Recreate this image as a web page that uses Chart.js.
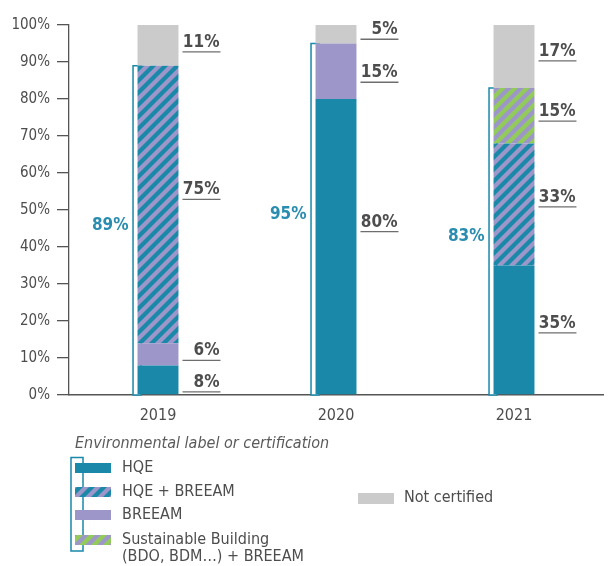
<!DOCTYPE html>
<html>
<head>
<meta charset="utf-8">
<script src="https://cdn.jsdelivr.net/npm/chart.js@4/dist/chart.umd.min.js"></script>
<style>
  html, body { margin: 0; padding: 0; background: #fff; }
  #wrap { width: 615px; height: 566px; position: relative; }
</style>
</head>
<body>
<div id="wrap"><canvas id="c" width="615" height="566"></canvas></div>
<script>
// Share of certified floor area by environmental label (%)
const years = ['2019', '2020', '2021'];
const hqe = [8, 80, 35];
const breeam = [6, 15, 0];
const hqeBreeam = [75, 0, 33];
const sustainableBreeam = [0, 0, 15];
const notCertified = [11, 5, 17];
const certifiedTotal = [89, 95, 83];
const yTickValues = [0, 10, 20, 30, 40, 50, 60, 70, 80, 90, 100];

const FONT = '"Liberation Sans Narrow", "DejaVu Sans Condensed", "Open Sans", sans-serif';
const TEAL = '#1a88a9';
const PURPLE = '#9d97c9';
const GREY = '#cbcbcb';
const GREEN = '#93cb5b';
const TEXT = '#4d4d4d';
const TOTAL_TEXT = '#2a8db0';

// Diagonal two-colour stripes, one stripe pair per tile
function stripes(bg, fg) {
  const s = 12;
  const t = document.createElement('canvas');
  t.width = s; t.height = s;
  const g = t.getContext('2d');
  g.fillStyle = bg;
  g.fillRect(0, 0, s, s);
  g.fillStyle = fg;
  const h = s / 2;
  // band of width h (measured horizontally) along the "/" diagonal, wrapped
  for (let k = -1; k <= 1; k++) {
    const o = k * s;
    g.beginPath();
    g.moveTo(o, s);
    g.lineTo(o + h, s);
    g.lineTo(o + h + s, 0);
    g.lineTo(o + s, 0);
    g.closePath();
    g.fill();
  }
  return g.createPattern(t, 'repeat');
}
const ctx0 = document.getElementById('c').getContext('2d');
const HQE_BREEAM_FILL = stripes(PURPLE, TEAL);
const SUST_FILL = stripes(PURPLE, GREEN);

// Vertical nudge (px) of each value label's underline from its segment centre
const labelNudge = {
  0: [12, -15, 3],
  1: [6, 11, 0],
  2: [-5, 0, 2.5],
  3: [0, 0, 5.5],
  4: [6.5, 5, 4.5]
};

const annotate = {
  id: 'annotate',
  beforeDatasetsDraw(chart) {
    const { ctx, scales: { y } } = chart;
    const meta = chart.getDatasetMeta(0);
    ctx.save();
    certifiedTotal.forEach((v, i) => {
      const bar = meta.data[i];
      const left = bar.x - bar.width / 2;
      const top = y.getPixelForValue(v);
      const bottom = y.getPixelForValue(0);
      ctx.fillStyle = '#fff';
      ctx.strokeStyle = TEAL;
      ctx.lineWidth = 1.5;
      ctx.beginPath();
      ctx.rect(left - 4.5, top, 8, bottom - top);
      ctx.fill();
      ctx.stroke();
    });
    ctx.restore();
  },
  afterDatasetsDraw(chart) {
    const { ctx, scales: { y } } = chart;
    ctx.save();
    // value labels with underline
    chart.data.datasets.forEach((ds, di) => {
      const meta = chart.getDatasetMeta(di);
      ds.data.forEach((v, i) => {
        if (!v) return;
        const bar = meta.data[i];
        const right = bar.x + bar.width / 2;
        const mid = (bar.y + bar.base) / 2;
        const uy = mid + labelNudge[di][i];
        ctx.strokeStyle = '#6e6e6e';
        ctx.lineWidth = 1.3;
        ctx.beginPath();
        ctx.moveTo(right + 4, uy);
        ctx.lineTo(right + 42, uy);
        ctx.stroke();
        ctx.fillStyle = TEXT;
        ctx.font = 'bold 17px ' + FONT;
        ctx.textAlign = 'right';
        ctx.textBaseline = 'alphabetic';
        ctx.fillText(v + '%', right + 41, uy - 5);
      });
    });
    // certified totals beside the brackets
    const meta0 = chart.getDatasetMeta(0);
    certifiedTotal.forEach((v, i) => {
      const bar = meta0.data[i];
      const left = bar.x - bar.width / 2;
      const top = y.getPixelForValue(v);
      const bottom = y.getPixelForValue(0);
      ctx.fillStyle = TOTAL_TEXT;
      ctx.font = 'bold 17px ' + FONT;
      ctx.textAlign = 'right';
      ctx.textBaseline = 'middle';
      ctx.fillText(v + '%', left - 9, (top + bottom) / 2 - 5);
    });
    ctx.restore();
  },
  afterDraw(chart) {
    const ctx = chart.ctx;
    const ds = chart.data.datasets;
    ctx.save();
    ctx.fillStyle = '#5a5a5a';
    ctx.font = 'italic 16px ' + FONT;
    ctx.textAlign = 'left';
    ctx.textBaseline = 'middle';
    ctx.fillText('Environmental label or certification', 75, 444);

    // bracket grouping the certified entries
    ctx.strokeStyle = TEAL;
    ctx.lineWidth = 1.5;
    ctx.strokeRect(71, 457.5, 12, 93.5);

    const rows = [
      { d: 0, y: 468 },
      { d: 2, y: 492 },
      { d: 1, y: 515 },
      { d: 3, y: 540 }
    ];
    ctx.font = '16px ' + FONT;
    rows.forEach(r => {
      ctx.fillStyle = ds[r.d].backgroundColor;
      ctx.fillRect(75, r.y - 5, 36, 10);
      ctx.fillStyle = TEXT;
      const lines = ds[r.d].legendText;
      lines.forEach((t, k) => ctx.fillText(t, 122, r.y + k * 17));
    });
    ctx.fillStyle = ds[4].backgroundColor;
    ctx.fillRect(358, 493, 36, 11);
    ctx.fillStyle = TEXT;
    ctx.fillText(ds[4].legendText[0], 404, 498);
    ctx.restore();
  }
};

new Chart(ctx0, {
  type: 'bar',
  data: {
    labels: years,
    datasets: [
      { label: 'HQE', legendText: ['HQE'], data: hqe, backgroundColor: TEAL },
      { label: 'BREEAM', legendText: ['BREEAM'], data: breeam, backgroundColor: PURPLE },
      { label: 'HQE + BREEAM', legendText: ['HQE + BREEAM'], data: hqeBreeam, backgroundColor: HQE_BREEAM_FILL },
      { label: 'Sustainable Building (BDO, BDM…) + BREEAM', legendText: ['Sustainable Building', '(BDO, BDM…) + BREEAM'], data: sustainableBreeam, backgroundColor: SUST_FILL },
      { label: 'Not certified', legendText: ['Not certified'], data: notCertified, backgroundColor: GREY }
    ]
  },
  options: {
    responsive: false,
    animation: false,
    devicePixelRatio: 1,
    layout: { padding: { top: 25, right: 12, bottom: 141, left: 0 } },
    datasets: { bar: { categoryPercentage: 1, barPercentage: 0.23, borderWidth: 0 } },
    plugins: { legend: { display: false }, tooltip: { enabled: false } },
    scales: {
      x: {
        stacked: true,
        afterFit(s) { s.height = 30; },
        grid: { display: false },
        border: { display: true, color: '#555', width: 1.5 },
        ticks: { color: TEXT, font: { family: FONT, size: 16 }, padding: 3 }
      },
      y: {
        stacked: true,
        min: 0, max: 100,
        afterFit(s) { s.width = 69; },
        afterBuildTicks(s) { s.ticks = yTickValues.map(v => ({ value: v })); },
        grid: { drawOnChartArea: false, drawTicks: true, tickLength: 12, color: '#555', lineWidth: 1.3 },
        border: { display: true, color: '#555', width: 1.3 },
        ticks: { color: TEXT, font: { family: FONT, size: 15 }, padding: 7, callback: v => v + '%' }
      }
    }
  },
  plugins: [annotate]
});
</script>
</body>
</html>
